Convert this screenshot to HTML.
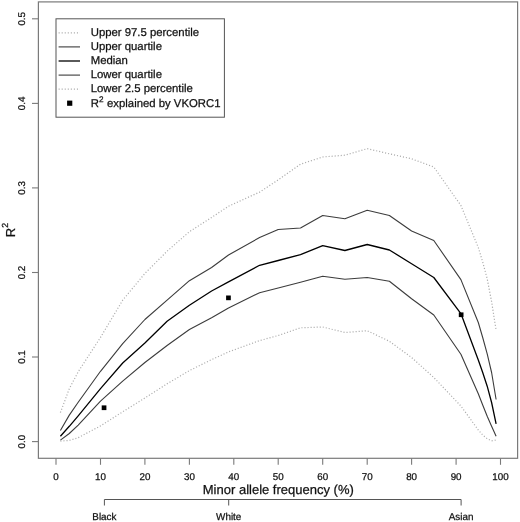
<!DOCTYPE html><html><head><meta charset="utf-8"><title>R2 vs minor allele frequency</title>
<style>html,body{margin:0;padding:0;background:#fff}svg{display:block}text{font-family:"Liberation Sans",Arial,Helvetica,sans-serif;fill:#111;stroke:#111;stroke-width:0.25px;text-rendering:geometricPrecision}</style></head><body>
<svg width="520" height="522" viewBox="0 0 520 522">
<rect width="520" height="522" fill="#fff"/>
<rect x="38.4" y="1.9" width="479.2" height="456.4" fill="none" stroke="#7a7a7a" stroke-width="1.2"/>
<line x1="32" y1="441.6" x2="38.4" y2="441.6" stroke="#7a7a7a" stroke-width="1.1"/>
<text x="0" y="0" font-size="9.8" text-anchor="middle" transform="translate(24.5 441.6) rotate(-90)">0.0</text>
<line x1="32" y1="357.0" x2="38.4" y2="357.0" stroke="#7a7a7a" stroke-width="1.1"/>
<text x="0" y="0" font-size="9.8" text-anchor="middle" transform="translate(24.5 357.0) rotate(-90)">0.1</text>
<line x1="32" y1="272.5" x2="38.4" y2="272.5" stroke="#7a7a7a" stroke-width="1.1"/>
<text x="0" y="0" font-size="9.8" text-anchor="middle" transform="translate(24.5 272.5) rotate(-90)">0.2</text>
<line x1="32" y1="187.9" x2="38.4" y2="187.9" stroke="#7a7a7a" stroke-width="1.1"/>
<text x="0" y="0" font-size="9.8" text-anchor="middle" transform="translate(24.5 187.9) rotate(-90)">0.3</text>
<line x1="32" y1="103.4" x2="38.4" y2="103.4" stroke="#7a7a7a" stroke-width="1.1"/>
<text x="0" y="0" font-size="9.8" text-anchor="middle" transform="translate(24.5 103.4) rotate(-90)">0.4</text>
<line x1="32" y1="18.8" x2="38.4" y2="18.8" stroke="#7a7a7a" stroke-width="1.1"/>
<text x="0" y="0" font-size="9.8" text-anchor="middle" transform="translate(24.5 18.8) rotate(-90)">0.5</text>
<line x1="56.0" y1="458.3" x2="56.0" y2="464.8" stroke="#7a7a7a" stroke-width="1.1"/>
<text font-size="9.8" text-anchor="middle" x="56.0" y="479.6">0</text>
<line x1="100.5" y1="458.3" x2="100.5" y2="464.8" stroke="#7a7a7a" stroke-width="1.1"/>
<text font-size="9.8" text-anchor="middle" x="100.5" y="479.6">10</text>
<line x1="144.9" y1="458.3" x2="144.9" y2="464.8" stroke="#7a7a7a" stroke-width="1.1"/>
<text font-size="9.8" text-anchor="middle" x="144.9" y="479.6">20</text>
<line x1="189.4" y1="458.3" x2="189.4" y2="464.8" stroke="#7a7a7a" stroke-width="1.1"/>
<text font-size="9.8" text-anchor="middle" x="189.4" y="479.6">30</text>
<line x1="233.8" y1="458.3" x2="233.8" y2="464.8" stroke="#7a7a7a" stroke-width="1.1"/>
<text font-size="9.8" text-anchor="middle" x="233.8" y="479.6">40</text>
<line x1="278.2" y1="458.3" x2="278.2" y2="464.8" stroke="#7a7a7a" stroke-width="1.1"/>
<text font-size="9.8" text-anchor="middle" x="278.2" y="479.6">50</text>
<line x1="322.7" y1="458.3" x2="322.7" y2="464.8" stroke="#7a7a7a" stroke-width="1.1"/>
<text font-size="9.8" text-anchor="middle" x="322.7" y="479.6">60</text>
<line x1="367.2" y1="458.3" x2="367.2" y2="464.8" stroke="#7a7a7a" stroke-width="1.1"/>
<text font-size="9.8" text-anchor="middle" x="367.2" y="479.6">70</text>
<line x1="411.6" y1="458.3" x2="411.6" y2="464.8" stroke="#7a7a7a" stroke-width="1.1"/>
<text font-size="9.8" text-anchor="middle" x="411.6" y="479.6">80</text>
<line x1="456.1" y1="458.3" x2="456.1" y2="464.8" stroke="#7a7a7a" stroke-width="1.1"/>
<text font-size="9.8" text-anchor="middle" x="456.1" y="479.6">90</text>
<line x1="500.5" y1="458.3" x2="500.5" y2="464.8" stroke="#7a7a7a" stroke-width="1.1"/>
<text font-size="9.8" text-anchor="middle" x="500.5" y="479.6">100</text>
<text x="278.3" y="493.6" font-size="13" text-anchor="middle">Minor allele frequency (%)</text>
<text font-size="13" transform="translate(14.8 237.2) rotate(-90)">R<tspan dy="-7.3" font-size="8.8">2</tspan></text>
<path d="M104.4 505.5 V499.5 H461.1 V505.5 M228.7 499.5 V505.5" fill="none" stroke="#555" stroke-width="1"/>
<text x="104.4" y="520.4" font-size="9.9" text-anchor="middle">Black</text>
<text x="228.7" y="520.4" font-size="9.9" text-anchor="middle">White</text>
<text x="461.1" y="520.4" font-size="9.9" text-anchor="middle">Asian</text>
<path d="M60.4 412.6 L69.3 388.7 L78.2 371.8 L100.5 337.4 L122.7 300.2 L144.9 273.4 L167.1 251.2 L189.4 231.7 L211.6 217.5 L228.5 206.2 L259.6 192.1 L278.2 179.9 L300.5 164.2 L322.7 157.0 L344.9 155.2 L367.2 148.7 L389.4 153.8 L411.6 158.8 L433.8 167.0 L460.9 205.5 L478.3 247.5 L482.7 262.0 L487.2 278.8 L491.6 301.7 L496.1 330.0" fill="none" stroke="#acacac" stroke-width="1.2" stroke-dasharray="1.1 1.95"/>
<path d="M60.4 441.1 L69.3 440.4 L78.2 437.7 L100.5 425.9 L122.7 411.8 L144.9 398.0 L167.1 383.8 L189.4 370.6 L211.6 359.6 L228.5 351.9 L259.6 340.6 L278.2 335.5 L300.5 327.8 L322.7 327.0 L344.9 332.5 L367.2 330.7 L389.4 341.3 L411.6 357.5 L433.8 377.5 L460.9 406.0 L478.3 430.0 L482.7 435.0 L487.2 438.7 L491.6 440.8 L496.1 440.0" fill="none" stroke="#acacac" stroke-width="1.2" stroke-dasharray="1.1 1.95"/>
<path d="M60.4 430.5 L69.3 415.1 L78.2 402.2 L100.5 371.3 L122.7 343.7 L144.9 319.5 L167.1 300.1 L189.4 280.7 L211.6 267.5 L228.5 255.0 L259.6 237.6 L278.2 229.5 L300.5 228.0 L322.7 215.5 L344.9 218.7 L367.2 210.3 L389.4 215.5 L411.6 231.0 L433.8 240.5 L460.9 279.6 L478.3 322.5 L482.7 337.5 L487.2 353.8 L491.6 372.5 L496.1 399.5" fill="none" stroke="#3c3c3c" stroke-width="1.1" stroke-linejoin="round"/>
<path d="M60.4 440.1 L69.3 433.5 L78.2 425.1 L100.5 401.2 L122.7 381.2 L144.9 362.5 L167.1 345.5 L189.4 329.5 L211.6 317.8 L228.5 308.1 L259.6 292.7 L278.2 288.0 L300.5 282.2 L322.7 276.2 L344.9 279.3 L367.2 277.5 L389.4 281.2 L411.6 298.8 L433.8 315.0 L460.9 354.2 L478.3 393.7 L482.7 405.0 L487.2 416.3 L491.6 426.2 L496.1 436.3" fill="none" stroke="#3c3c3c" stroke-width="1.1" stroke-linejoin="round"/>
<path d="M60.4 436.2 L69.3 426.3 L78.2 415.8 L100.5 388.7 L122.7 363.0 L144.9 343.0 L167.1 321.3 L189.4 305.3 L211.6 291.0 L228.5 281.9 L259.6 265.3 L278.2 260.5 L300.5 254.7 L322.7 245.6 L344.9 250.5 L367.2 244.5 L389.4 250.0 L411.6 263.7 L433.8 277.5 L460.9 313.6 L478.3 360.0 L482.7 372.5 L487.2 386.2 L491.6 402.5 L496.1 423.8" fill="none" stroke="#000" stroke-width="1.3" stroke-linejoin="round"/>
<rect x="101.7" y="405.4" width="4.7" height="4.7" fill="#000"/>
<rect x="226.1" y="295.5" width="4.7" height="4.7" fill="#000"/>
<rect x="458.8" y="312.4" width="4.7" height="4.7" fill="#000"/>
<rect x="56" y="18.8" width="168.4" height="98.4" fill="#fff" stroke="#555" stroke-width="1"/>
<line x1="58.6" x2="80" y1="32.8" y2="32.8" stroke="#acacac" stroke-width="1.2" stroke-dasharray="1.1 1.95"/>
<line x1="58.6" x2="80" y1="46.9" y2="46.9" stroke="#3c3c3c" stroke-width="1.1"/>
<line x1="58.6" x2="80" y1="61" y2="61" stroke="#000" stroke-width="1.3"/>
<line x1="58.6" x2="80" y1="75.1" y2="75.1" stroke="#3c3c3c" stroke-width="1.1"/>
<line x1="58.6" x2="80" y1="89.2" y2="89.2" stroke="#acacac" stroke-width="1.2" stroke-dasharray="1.1 1.95"/>
<rect x="67.1" y="100.6" width="5.2" height="5.2" fill="#000"/>
<text x="90.7" y="35.9" font-size="11.35">Upper 97.5 percentile</text>
<text x="90.7" y="50.0" font-size="11.35">Upper quartile</text>
<text x="90.7" y="64.1" font-size="11.35">Median</text>
<text x="90.7" y="78.0" font-size="11.35">Lower quartile</text>
<text x="90.7" y="91.9" font-size="11.35">Lower 2.5 percentile</text>
<text x="90.7" y="107.4" font-size="11.35">R<tspan dy="-5.8" font-size="8.2">2</tspan><tspan dy="5.8" dx="0.4"> explained by VKORC1</tspan></text>
</svg></body></html>
